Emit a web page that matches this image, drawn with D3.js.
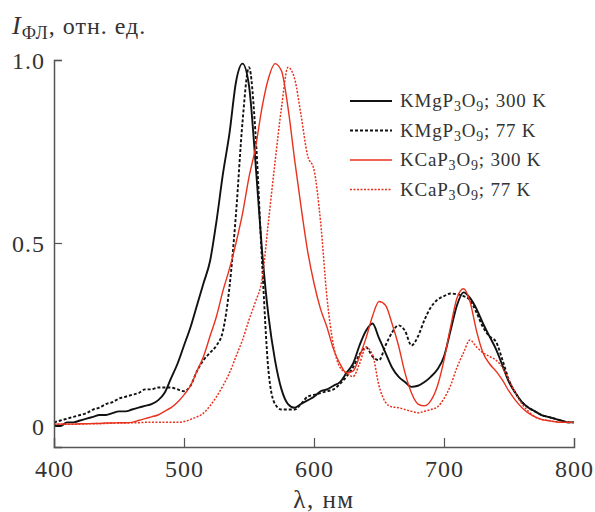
<!DOCTYPE html>
<html>
<head>
<meta charset="utf-8">
<script src="https://cdn.jsdelivr.net/npm/d3@7"></script>
<style>
  body { margin: 0; background: #fff; }
  svg text { font-family: "Liberation Serif", "Times New Roman", serif; fill: #333; }
</style>
</head>
<body>
<svg width="595" height="512"></svg>
<script>
// luminescence spectra, values (5 nm step)
var wavelength = d3.range(400, 801, 5);

var mg300 = [0.00, 0.00, 0.01, 0.01, 0.015, 0.02, 0.025, 0.03, 0.03, 0.035,
    0.04, 0.04, 0.045, 0.05, 0.055, 0.06, 0.07, 0.09, 0.13, 0.17,
    0.22, 0.27, 0.33, 0.39, 0.45, 0.56, 0.69, 0.80, 0.94, 0.99,
    0.93, 0.72, 0.48, 0.30, 0.18, 0.10, 0.06, 0.05, 0.06, 0.07,
    0.08, 0.095, 0.10, 0.11, 0.12, 0.145, 0.17, 0.22, 0.26, 0.28,
    0.24, 0.20, 0.16, 0.135, 0.12, 0.107, 0.11, 0.12, 0.135, 0.155,
    0.19, 0.26, 0.33, 0.365, 0.35, 0.32, 0.28, 0.245, 0.21, 0.165,
    0.12, 0.09, 0.065, 0.05, 0.04, 0.03, 0.025, 0.02, 0.015, 0.01, 0.01];

var mg77 = [0.01, 0.015, 0.02, 0.025, 0.03, 0.035, 0.045, 0.05, 0.06, 0.065,
    0.075, 0.08, 0.085, 0.09, 0.10, 0.10, 0.105, 0.105, 0.105, 0.10,
    0.095, 0.11, 0.15, 0.18, 0.20, 0.22, 0.26, 0.38, 0.58, 0.83,
    0.98, 0.80, 0.45, 0.15, 0.06, 0.045, 0.045, 0.045, 0.06, 0.08,
    0.085, 0.09, 0.095, 0.10, 0.115, 0.135, 0.16, 0.195, 0.215, 0.19,
    0.18, 0.22, 0.255, 0.275, 0.26, 0.22, 0.245, 0.29, 0.325, 0.345,
    0.355, 0.362, 0.36, 0.355, 0.344, 0.31, 0.27, 0.245, 0.23, 0.18,
    0.125, 0.09, 0.065, 0.05, 0.04, 0.03, 0.025, 0.02, 0.015, 0.01, 0.01];

var ca300 = [0.005, 0.005, 0.005, 0.005, 0.006, 0.006, 0.007, 0.007, 0.008, 0.008,
    0.009, 0.009, 0.01, 0.015, 0.02, 0.025, 0.03, 0.04, 0.05, 0.065,
    0.085, 0.11, 0.15, 0.19, 0.245, 0.30, 0.37, 0.43, 0.50, 0.58,
    0.68, 0.76, 0.87, 0.95, 0.99, 0.97, 0.87, 0.73, 0.60, 0.48,
    0.39, 0.32, 0.27, 0.21, 0.17, 0.145, 0.15, 0.19, 0.24, 0.30,
    0.34, 0.33, 0.28, 0.22, 0.145, 0.09, 0.06, 0.055, 0.07, 0.11,
    0.18, 0.27, 0.35, 0.375, 0.34, 0.26, 0.20, 0.17, 0.15, 0.125,
    0.095, 0.07, 0.05, 0.035, 0.025, 0.018, 0.015, 0.012, 0.01, 0.01, 0.01];

var ca77 = [0.005, 0.005, 0.005, 0.005, 0.005, 0.006, 0.006, 0.007, 0.007, 0.008,
    0.008, 0.008, 0.009, 0.009, 0.01, 0.01, 0.01, 0.01, 0.01, 0.01,
    0.012, 0.018, 0.025, 0.035, 0.055, 0.08, 0.11, 0.145, 0.19, 0.235,
    0.29, 0.34, 0.40, 0.56, 0.72, 0.87, 0.98, 0.95, 0.85, 0.74,
    0.70, 0.56, 0.35, 0.22, 0.16, 0.145, 0.135, 0.17, 0.215, 0.195,
    0.11, 0.065, 0.052, 0.05, 0.045, 0.04, 0.036, 0.04, 0.045, 0.052,
    0.075, 0.11, 0.16, 0.20, 0.235, 0.216, 0.20, 0.19, 0.18, 0.16,
    0.125, 0.09, 0.06, 0.04, 0.025, 0.018, 0.015, 0.012, 0.01, 0.01, 0.01];

var seriesNames = ["KMgP3O9; 300 K", "KMgP3O9; 77 K", "KCaP3O9; 300 K", "KCaP3O9; 77 K"];
var xTicks = [400, 500, 600, 700, 800];
var yTicks = [0, 0.5, 1.0];
var yTickLabels = ["0", "0.5", "1.0"];

var series = [
    {name: seriesNames[0], values: mg300, color: "#111", dash: null, width: 1.9},
    {name: seriesNames[1], values: mg77, color: "#111", dash: "3,2", width: 1.9},
    {name: seriesNames[2], values: ca300, color: "#e8321e", dash: null, width: 1.4},
    {name: seriesNames[3], values: ca77, color: "#e8321e", dash: "2,1.5", width: 1.5}
];

var svg = d3.select("svg");

var x = d3.scaleLinear().domain([400, 800]).range([54, 574]);
var y = d3.scaleLinear().domain([-0.0574, 1]).range([447, 60]);

var axisColor = "#555";

// curves
var line = d3.line()
    .x(function(d, i) { return x(wavelength[i]); })
    .y(function(d) { return y(d); })
    .curve(d3.curveMonotoneX);

series.forEach(function(s) {
    svg.append("path")
        .attr("d", line(s.values))
        .attr("fill", "none")
        .attr("stroke", s.color)
        .attr("stroke-width", s.width)
        .attr("stroke-dasharray", s.dash);
});

// axes
var xAxis = svg.append("g")
    .attr("transform", "translate(0," + y.range()[0] + ")")
    .call(d3.axisBottom(x).tickValues(xTicks).tickSize(-9).tickPadding(13).tickFormat(d3.format("d")));
var yAxis = svg.append("g")
    .attr("transform", "translate(" + x.range()[0] + ",0)")
    .call(d3.axisLeft(y).tickValues(yTicks).tickSize(-8).tickPadding(9)
        .tickFormat(function(d, i) { return yTickLabels[i]; }));

[xAxis, yAxis].forEach(function(a) {
    a.attr("font-family", null);
    a.select(".domain").attr("stroke", axisColor).attr("stroke-width", 1.5);
    a.selectAll(".tick line").attr("stroke", axisColor).attr("stroke-width", 1.2);
    a.selectAll(".tick text").style("font-size", "24px").style("letter-spacing", "1px").attr("fill", "#333");
});
xAxis.selectAll(".tick").filter(function(d) { return d == 400 || d == 800; }).select("line").remove();
yAxis.selectAll(".tick").filter(function(d) { return d == 0; }).select("line").remove();
yAxis.selectAll(".tick text").attr("dy", "0.35em");

// axis titles
var yTitle = svg.append("text")
    .attr("x", 12)
    .attr("y", 34)
    .style("font-size", "24px")
    .style("letter-spacing", "1px");
yTitle.append("tspan").style("font-style", "italic").style("font-size", "26px").text("I");
yTitle.append("tspan").attr("dy", 5).style("font-size", "18px").text("ФЛ");
yTitle.append("tspan").attr("dy", -5).text(", отн. ед.");

svg.append("text")
    .attr("x", 324)
    .attr("y", 508)
    .attr("text-anchor", "middle")
    .style("font-size", "25px")
    .style("letter-spacing", "1.5px")
    .text("λ, нм");

// legend
var legendG = svg.selectAll(".legend")
    .data(series)
    .enter().append("g")
    .attr("class", "legend")
    .attr("transform", function(d, i) {
        return "translate(350," + (101 + i * 29.5) + ")";
    });

legendG.append("line")
    .attr("x1", 0).attr("x2", 42)
    .attr("stroke", function(d) { return d.color; })
    .attr("stroke-width", function(d) { return d.width; })
    .attr("stroke-dasharray", function(d) { return d.dash; });

legendG.each(function(d) {
    var parts = d.name.split(";")[0].match(/^(K(?:Mg|Ca))P3O9$/);
    var t = d3.select(this).append("text")
        .attr("x", 50)
        .attr("y", 6)
        .style("font-size", "19px")
        .style("letter-spacing", "0.8px");
    t.append("tspan").text(parts[1] + "P");
    t.append("tspan").attr("dy", 4).style("font-size", "14px").text("3");
    t.append("tspan").attr("dy", -4).text("O");
    t.append("tspan").attr("dy", 4).style("font-size", "14px").text("9");
    t.append("tspan").attr("dy", -4).text(";" + d.name.split(";")[1]);
});
</script>
</body>
</html>
